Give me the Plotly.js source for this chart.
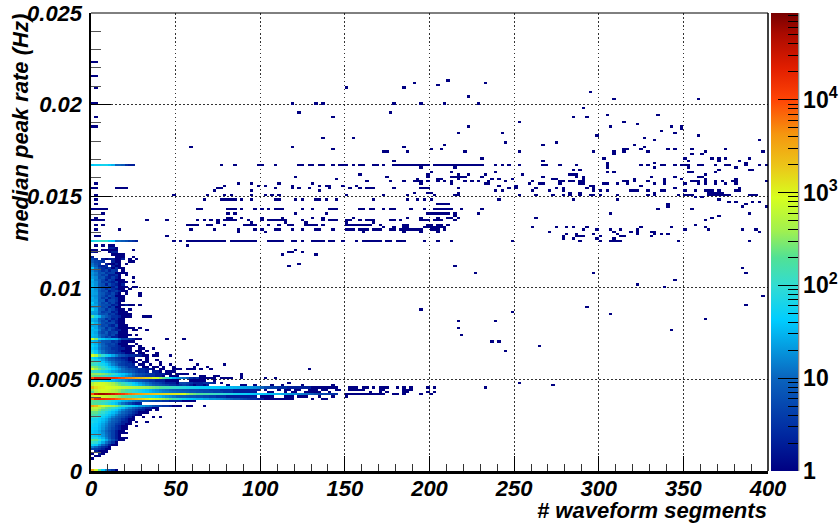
<!DOCTYPE html>
<html><head><meta charset="utf-8">
<script src="https://cdn.plot.ly/plotly-3.0.1.min.js"></script>
<style>html,body{margin:0;padding:0;background:#fff}#c{width:840px;height:524px}</style>
</head><body><div id="c"></div>
<script>
// Histogram grid: 200 x 200 bins
const segmentBinCount = 200, segmentBinWidth = 2;
const rateBinCount = 200, rateBinWidth = 0.000125;

// Dense rows: rate-bin index and the counts read per segment bin, starting at bin 0
const denseRows = [0,5,6,7,8,9,10,11,12,13,14,15,16,17,18,19,20,21,22,23,24,25,26,27,28,29,30,31,32,33,34,35,36,37,38,39,40,41,42,43,44,45,46,47,48,49,50,51,52,53,54,55,56,57,58,59,60,61,62,63,64,65,66,67,68,69,70,71,72,73,74,75,76,77,78,79,80,81,82,83,84,85,86,87,88,89,90,91,92,93,94,95,96,97,100,133];
const denseCounts = [
[3000,800,200,40,15,6,3,1],
[1],[0,1,1],[1,0,2,1],[0,2,1,1,1],[5,4,3,2,1,1],[15,10,5,3,2,1],
[50,40,20,10,5,2,1,1],[110,90,50,25,12,6,3,1],[220,200,100,50,25,12,6,3,1,1],
[70,70,45,30,15,8,4,2,1,1,1],[45,40,30,20,12,7,4,2,1],[40,35,28,18,11,7,4,2,1,1,1],
[40,35,25,16,10,6,4,2,1,1],[45,40,30,20,12,8,5,3,2,1,1],[50,45,32,22,14,9,6,3,2,1,1,0,0,1],
[55,45,35,24,16,10,7,4,3,2,1,1],[70,55,40,30,20,12,8,6,4,2,2,1,0,1,0,0,1],
[60,55,45,35,25,15,10,7,5,3,2,1,1],[120,100,70,50,35,25,15,10,7,5,3,2,1,0,0,1,0,0,1,0,1],
[160,140,90,70,50,35,25,15,10,7,5,3,2,1,1],[220,220,140,100,70,50,35,25,15,10,7,5,3,2,1,1,1],
[400,400,260,180,130,90,60,40,25,15,10,7,5,3,2,2,1,1,0,1],
[500,600,450,300,220,150,110,80,50,35,22,15,10,7,5,3,2,2,1,1],
[3500,2500,1200,800,600,500,400,300,200,120,80,60,45,35,25,20,15,12,8,6,4,3,3,2,1,1,1,0,1,1,0,0,0,1],
[200,180,150,120,90,70,50,35,20,12,8,5,3,2,2],
[200,200,180,150,120,90,70,50,40,30,25,20,15,12,10,8,7,6,5,4,4,3,3,2,2,2,2,1,1,1,1],
[6000,16000,18000,16000,14000,13000,11000,8000,6500,5000,4000,3400,2800,2300,1800,1500,1200,900,700,600,500,400,300,220,150,110,80,60,45,40,35,30,30,25,25,20,20,18,16,14,12,10,8,8,6,5,4,3,3,2,2],
[600,900,800,700,600,500,420,350,280,220,180,150,120,100,85,70,60,55,50,40,32,25,20,16,13,10,9,9,8,7,7,6,6,5,5,4,4,3,3,3,2,2,2,2,2,2,2,2,2],
[9000,40000,60000,60000,50000,40000,30000,20000,15000,12000,8000,6000,5000,4000,3500,3000,2500,2200,2000,1800,1600,1500,1400,1300,1200,1100,1000,800,400,300,250,200,180,160,150,130,120,110,100,90,80,70,60,55,50,50,45,45,40,40,40,35,35,35,30,30,25,25,20,20,18,16,14,12,10,8,6,5,5,4,4,3,3],
[200,450,650,750,700,600,500,400,300,220,160,130,100,80,65,50,40,32,26,22,18,15,14,12,11,10,9,9,8,7,7,6,6,5,5,5,4,4,4,3,3,3,2,2,2,2,2,2,2],
[350,600,800,850,800,700,550,420,320,240,170,130,100,80,65,50,38,30,24,20,16,14,12,10,9,8,8,7,7,6,6,6,5,5,5,4,4,4,3,3,3,3,2,2,2,2,2,2,2,2],
[2500,1400,1100,1000,900,850,800,750,700,650,600,550,500,450,420,400,360,320,280,240,200,170,150,130,110,100,90,80,70,65,60,55,50,48,46,44,42,40,38,36,34,32,30,28,26,24,22,20,18,16,10,6,5,4,4,3,3,3,2,2,2,2,2,2,2,1,1,1,1,1,1,1,1],
[500,800,850,800,700,600,460,340,250,180,130,90,60,42,30,22,16,12,9,7,6,5,4,3,3,2,3,4,3,2,1,2,2,1,2],
[450,700,800,750,650,520,380,270,190,130,90,65,45,32,22,16,12,9,6,5,4,3,2,2,2,1,5,5,4,3,2,2,2,3,3,3,2],
[80,90,80,65,50,40,32,26,22,18,14,11,9,7,6,5,4,3,3,2,2,2,1,1,1,1],
[9000,25000,25000,22000,22000,20000,16000,14000,10000,8000,6000,5000,4000,3000,2500,2000,1600,1300,1000,800,400,250,120,60,30,20,15,12,8,3,2,2],
[250,200,180,140,100,80,60,50,40,30,20,15,10,6,5,4,3,3,3,2,2,1,0,1,1,1],
[350,350,350,300,250,200,120,80,50,40,30,20,12,8,6,5,4,3,3,2,2,2,1,1,0,1],
[120,100,80,60,45,35,25,20,15,12,10,8,6,4,3,3,2,0,2,2,1,0,1,1,1],
[900,400,250,150,100,70,40,30,20,12,8,6,5,4,3,3,2,2,1,0,1,1,0,0,1,1],
[300,250,150,100,70,40,30,20,12,8,5,3,3,2,0,1,1,0,1,1,0,1,0,0,1],
[120,100,70,60,40,25,15,10,5,4,3,3,2,0,1,1,0,1,0,0,1,0,0,1],
[200,120,80,40,25,18,12,8,6,4,3,2,1,1,0,1,1,0,0,0,1],
[120,60,40,25,15,10,8,5,4,3,2,1,1,0,1,0,1,0,0,1],
[60,40,25,20,12,8,6,4,3,2,2,1,1,0,0,0,1],
[900,500,200,100,60,40,25,15,8,6,4,3,3,2,2,1,1,0,1,1,0,0,0,1],
[100,40,20,12,8,5,4,3,3,2,1,1,1,0,1,1,0,0,0,1],
[70,40,18,12,7,5,4,3,2,1,1,1,0,1,1,0,1],
[40,30,14,9,6,5,3,3,2,2,1,1,0,0,1,1,0,0,1],
[55,35,16,10,7,4,4,3,2,1,1,1,1,0,1],
[40,30,14,9,5,4,5,3,1,1,1,0,0,1],
[35,28,13,7,6,6,3,4,2,1,1,1,1],
[800,300,60,40,30,25,30,25,12,5,5,3,2,1,1,0,0,0,0,0,0,0,1,0,0,0,0,1],
[30,26,14,7,4,6,2,2,1,1,1],
[35,28,12,8,6,3,5,2,1,1,1,1,0,1],
[32,24,9,5,8,3,4,5,1,1,1],
[30,30,14,6,4,7,3,2,2,1,1,0,1,1,0,0,1],
[36,25,11,8,3,6,4,2,1,1,1,1,1,0,1],
[25,24,9,5,6,3,2,5,1,1,1],
[60,30,13,6,4,5,5,2,1,1],
[28,22,10,5,7,2,4,2,1,1],
[30,26,9,7,3,5,2,3,1,1],
[200,60,30,12,8,5,3,3,2,1,1,1,0,0,0,1,1,1],
[22,20,8,6,7,3,4,2,1,1,1,1],
[24,22,10,4,5,6,2,3,1,1,1],
[60,26,9,7,3,6,4,2,1,1,0,1],
[20,18,10,5,6,2,4,1,1],
[30,24,9,6,5,5,2,3,1,1,2,1,1,0,1],
[40,20,10,5,7,3,5,2,1],
[26,22,8,8,2,5,5,3,1,1],
[28,20,9,4,6,2,4,3,1,1],
[22,18,9,6,3,6,4,1,1,1,0,0,0,0,1],
[25,22,9,7,4,3,5,2,1,0,1,0,0,0,1],
[25,20,8,5,6,2,3,4,2,1,1],
[30,18,10,6,3,5,3,2,1,1,0,1],
[30,22,9,5,7,3,2,4,1,1,1,0,1,1],
[28,18,8,6,2,6,3,2,1,2],
[25,18,9,4,5,3,2,4,1,1,1,0,1],
[30,14,9,5,2,5,3,1,1,1],
[22,16,6,7,3,2,4,2,1,0,0,0,1],
[18,12,7,4,6,2,2,3,1,0,1],
[20,14,6,7,3,4,4,1,1,1,1],
[16,10,6,3,5,2,4,3,0,1],
[40,12,5,3,2,4,1,3,1,1],
[14,8,3,2,3,0,2,1,1],
[12,6,4,0,2,1,1,2,1,0,1],
[8,5,4,3,0,0,2,1,1,0,0,1,1],
[5,3,0,2,1,2,2,1,1,2,0,1,0,1],
[2,0,0,0,0,0,0,1,1,1,0,0,1],
[0,0,0,0,0,0,1,1,1,1],
[2,1,0,0,0,1,2,2],
[1,1,0,1,1,1,1,1,0,0,0,0,1],
[0,0,0,0,0,2,2,1],
[60,80,100,120,110,50,40,10,10,8,6,4,3,2],
[40,50,50,60,60,40,30,10,10,8,3,2,2]
];

// Sparse rows: rate-bin index and the segment bins holding single entries
const sparseRows = [178,172,170,169,168,167,165,163,162,160,158,156,155,154,152,151,150,149,148,147,146,145,144,143,142,141,140,139,138,136,135,134,133,132,131,130,129,128,127,126,125,124,123,122,121,120,119,118,117,116,115,114,112,111,110,109,108,107,106,105,104,103,102,101,100,98,
 96,95,94,90,89,88,86,83,81,80,76,72,71,70,69,68,66,65,62,61,59,56,54,52,48,46,45,44,42,41,40,39,38,37,36,35,34,33,32,31];
const sparseSegments = [
[0,1],[0,1],[105],[95,116],[102],[1,75,92],[147],[111],[154,179],[0,1,59,66,68,89,97,104,114],[145],[61,88],[152,167],[1,71,142,146],[126,157],[161],[0,1,111,153,171,174],[174],[168],[108,121,172],[149,179],[68,77,163],[166,197],[122,137],[104,133,160],[29,59,92,163],
[71,100,103,157,158,162,170,172,177,187],[86,87,93,110,126,148,154,157,164,181,198],[154,177,180],[115,151,175,183,185,187,194],[89,133,176,185,191],[152,166,193],
[38,42,49,50,54,61,62,64,65,67,68,71,73,74,75,77,79,80,83,84,86,89,90,91,92,93,94,95,96,97,98,99,101,102,103,104,105,106,107,108,109,110,111,112,113,114,115,119,121,123,126,133,134,138,143,152,162,164,168,169,172,174,175,176,179,180,184,187,188,193,197,199],
[97,107,152,166,176,190],[142,144,185,194,195],[100,106,119,152,154,176,177,184],[79,99,108,111,116,127,141,142,143,181],[60,87,99,106,107,108,109,110,115,133,143,145,165,172,179,180],
[72,96,102,103,108,118,120,124,136,137,145,160,169,174,181,190],
[81,88,92,95,96,97,99,102,104,106,110,112,114,117,122,130,138,139,141,142,144,145,157,158,160,164,169,177,178,179,181,184,186,189,190,199],
[1,43,47,55,65,97,106,116,117,129,132,133,138,144,145,151,152,155,158,166,169,175,179,181,184,187,190],
[39,49,51,59,67,69,70,74,78,120,125,147,148,162],
[0,1,7,8,9,10,37,38,54,59,61,64,70,76,79,81,82,83,89,97,98,99,108,123,125,131,137,139,146,148,172,191],
[36,47,67,119,121,130,135,139,148,150,152,159,160,161,164,168,169,175,178,181,182,183,185,190,191],
[95,99,100,108,141,144,166,182,183,184,185,186],
[1,24,34,39,41,47,51,53,55,75,86,93,101,107,108,126,131,136,139,141,144,147,148,150,155,164,166,173,175,176,177,182,183,184,185,186,187,188,194,195,196],
[178,180],
[1,33,38,39,40,41,42,44,47,54,55,60,62,66,67,69,72,83,93,96,98,100,120,142,155,185],
[188,190,195,197],[1,102,103,104,105,170,193],[170,192,199],
[0,1,2,3,4,31,32,40,41,42,44,48,50,52,54,55,56,62,65,70,71,72,79,80,82,83,86,88,89,94,98,101,102,103,104,105,106,109,115,167,177],
[3,40,42,60,69,99,100,101,102,103,104,105,107,114,153,194],[107,185],
[1,40,41,44,50,56,65,68,77,93,97,102,105,106,108,131,183],
[0,1,2,3,16,22,31,33,35,37,39,40,41,42,46,50,52,53,54,55,56,57,62,68,70,71,72,75,76,79,81,82,83,88,89,91,97,98,99,101,102,103,107,181],
[37,47,57,63,75,83],
[1,3,28,29,30,31,34,35,39,45,46,47,48,52,55,58,59,63,64,65,66,68,75,76,77,78,79,80,81,82,85,92,93,99,100,102,103,105,178],
[86,89,92,93,98,99,100,101,102,103,104,130,137,140,142,146,162,171,181],
[1,8,29,36,43,48,50,54,55,59,62,66,67,71,75,76,77,79,80,81,83,84,85,88,89,91,92,93,94,95,96,97,100,101,102,104,145,149,153,156,161,175,182,192,196],
[43,51,80,92,97,102,135,154,159,161,165,166,197],[140,143,148,155,161,166,168,170],[1,2,22,139,143,144,145,150,156,157,165],[139,142,149,154],
[24,26,28,29,30,31,32,33,34,35,36,37,38,39,41,42,43,44,45,46,47,48,52,53,54,55,56,59,60,62,65,66,67,68,70,71,74,78,80,81,82,83,84,85,87,88,90,91,92,98,102,106,124,144,150,153,154,155,156,173,194],
[1,3,5,6,28],
[60],[58,59,62],[56,66],[61],[58,107],[192],[113,148,193],[172],[161],[169],[198],[193],[146],[97],[124],[153],[181],[108,119],[108],[171],[109],[118,120],[132],[122],
[29],[31,39],[30,34],[26,28,29,30,32,35,64],[26,27,28,30,44],[32,33,36,37,44],
[31,32,33,34,35,36,38,39,40,41,44,51,54],[29,30,31,32,33,36],[38,58,126],[40,44,45,48,53,56,62,71,136],
[76,77,78,80,81,83,85,86,87,90,92,94,99,101,116],[51,55,57,58,60,61,64,65,66,68,69,72,73,76,77,78,79,80,85,86,92,93,94],
[52,53,57,59,60,63,64,65,66,67,70,82,85,87,92,93,99,101],[75,76,77,78,79,80,81,82,83,84,85,86,89,90,92,97,100],
[50,51,52,53,57,58,59,61,62,63,67,71,75],[51,52,53,54,55,56,57,58,59,65,68,69]
];

// Axis ticks and labels
const xTickValues = [0,50,100,150,200,250,300,350,400];
const yTickValues = [0,0.005,0.01,0.015,0.02,0.025];
const yTickLabels = ['0','0.005','0.01','0.015','0.02','0.025'];
const colorDecades = [0,1,2,3,4];
const colorDecadeLabels = ['1','10','10<sup>2</sup>','10<sup>3</sup>','10<sup>4</sup>'];
const colorMaxLog = 4.935;
const rootRainbow = [
[0,'rgb(0,0,130)'],[0.08,'rgb(0,40,160)'],[0.2026,'rgb(10,100,190)'],[0.33,'rgb(0,205,255)'],
[0.405,'rgb(50,220,210)'],[0.465,'rgb(80,225,150)'],[0.524,'rgb(160,240,80)'],[0.597,'rgb(215,255,30)'],
[0.663,'rgb(235,200,25)'],[0.736,'rgb(245,150,15)'],[0.809,'rgb(255,70,5)'],[0.88,'rgb(225,30,0)'],
[0.955,'rgb(170,10,0)'],[1,'rgb(120,0,0)']];

const counts = Array.from({length:rateBinCount},()=>new Array(segmentBinCount).fill(0));
denseRows.forEach((r,k)=>denseCounts[k].forEach((c,i)=>{counts[r][i]+=c;}));
sparseRows.forEach((r,k)=>sparseSegments[k].forEach(i=>{counts[r][i]+=1;}));
const logCounts = counts.map(row=>row.map(c=>c>0?Math.log10(c):null));

// colour-bar minor tick positions: 2..9 per decade
const minorVals=[];
colorDecades.forEach(d=>{
  for(let m=2;m<=9;m++){
    const v=d+Math.log10(m);
    if(v<=colorMaxLog)minorVals.push(v);
  }
});

const fam='Liberation Sans, Arial, sans-serif';
const biFont={family:fam,size:22,color:'#000',weight:'bold',style:'italic'};
const heat={type:'heatmap',z:logCounts,x0:segmentBinWidth/2,dx:segmentBinWidth,y0:rateBinWidth/2,dy:rateBinWidth,
  zmin:0,zmax:colorMaxLog,zsmooth:false,colorscale:rootRainbow,hoverongaps:false,
  colorbar:{x:1.0044,xanchor:'left',xpad:0,ypad:0,y:0.5,yanchor:'middle',len:1,lenmode:'fraction',thickness:27,thicknessmode:'pixels',
    outlinewidth:0,borderwidth:0,tickmode:'array',tickvals:colorDecades,ticktext:colorDecadeLabels,ticks:'inside',ticklen:20,tickwidth:1,tickcolor:'#000',
    tickfont:{family:fam,size:23,color:'#000',weight:'bold'}}};
// transparent companion carrying only the short minor ticks of the colour bar
const minorTicks={type:'heatmap',z:[[0,colorMaxLog]],x:[500,510],y:[0.03],zmin:0,zmax:colorMaxLog,hoverinfo:'skip',
  colorscale:[[0,'rgba(0,0,0,0)'],[1,'rgba(0,0,0,0)']],
  colorbar:{x:1.0044,xanchor:'left',xpad:0,ypad:0,y:0.5,yanchor:'middle',len:1,thickness:27,outlinewidth:0,borderwidth:0,
    tickmode:'array',tickvals:minorVals,ticks:'inside',ticklen:10,tickwidth:1,tickcolor:'#000',showticklabels:false}};

const layout={width:840,height:524,autosize:false,paper_bgcolor:'#fff',plot_bgcolor:'#fff',showlegend:false,
  margin:{l:91,r:72,t:13,b:53,pad:0,autoexpand:false},
  xaxis:{range:[0,400],tickmode:'array',tickvals:xTickValues,ticks:'inside',ticklen:15,tickwidth:1,tickcolor:'#000',
    tickfont:biFont,showline:true,linecolor:'#000',linewidth:2.5,showgrid:true,gridcolor:'#333',gridwidth:1,griddash:'1.5px,2.5px',zeroline:false,
    minor:{dtick:10,ticks:'inside',ticklen:7,tickwidth:1,tickcolor:'#333',showgrid:false},ticklabelstandoff:-4},
  yaxis:{range:[0,0.025],tickmode:'array',tickvals:yTickValues,ticktext:yTickLabels,ticks:'inside',ticklen:20,tickwidth:1,tickcolor:'#000',
    tickfont:biFont,showline:true,linecolor:'#000',linewidth:2.5,showgrid:true,gridcolor:'#333',gridwidth:1,griddash:'1.5px,2.5px',zeroline:false,
    minor:{dtick:0.001,ticks:'inside',ticklen:10,tickwidth:1,tickcolor:'#555',showgrid:false},ticklabelstandoff:2},
  shapes:[
    {type:'line',xref:'paper',yref:'paper',x0:0,x1:1,y0:1,y1:1,line:{color:'#000',width:1}},
    {type:'line',xref:'paper',yref:'paper',x0:1,x1:1,y0:0,y1:1,line:{color:'#000',width:1.5}},
    {type:'line',xref:'paper',yref:'paper',x0:1.0454,x1:1.0454,y0:0,y1:1,line:{color:'#666',width:1}}
  ],
  annotations:[
    {text:'# waveform segments',xref:'paper',yref:'paper',x:1.002,y:-0.087,xanchor:'right',yanchor:'middle',showarrow:false,font:biFont},
    {text:'median peak rate (Hz)',xref:'paper',yref:'paper',x:-0.104,y:1.002,xanchor:'center',yanchor:'top',textangle:-90,showarrow:false,font:biFont}
  ]};
Plotly.newPlot('c',[heat,minorTicks],layout,{displayModeBar:false,staticPlot:true});
</script></body></html>
